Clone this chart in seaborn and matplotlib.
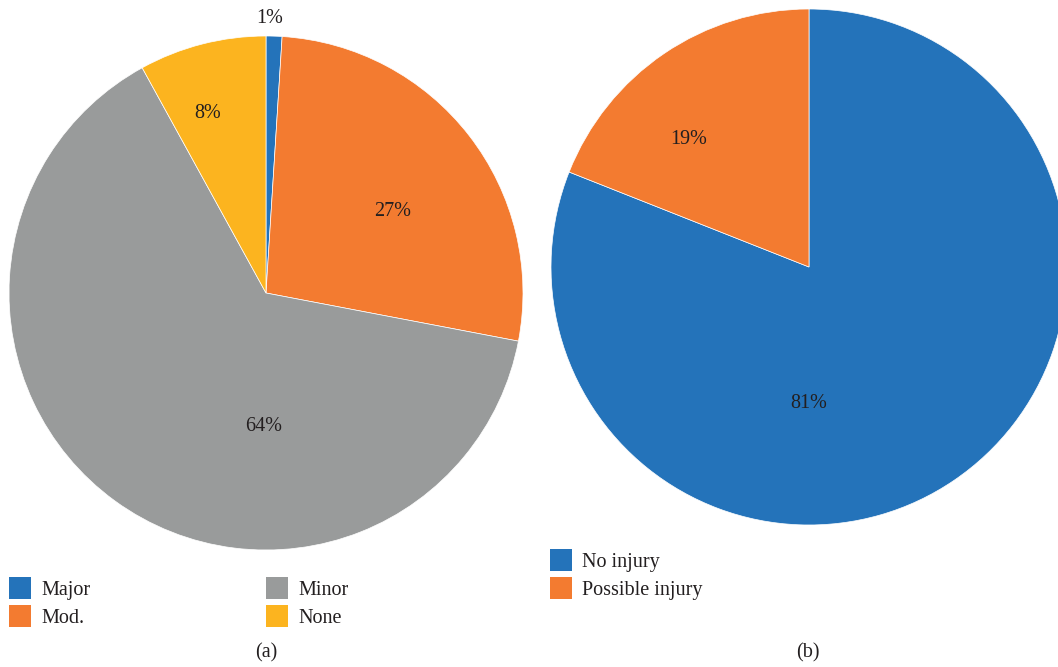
import matplotlib
matplotlib.use("Agg")
import matplotlib.pyplot as plt
import matplotlib.patches as mpatches
import seaborn as sns

# data
severity_labels = ["Major", "Mod.", "Minor", "None"]
severity_share = [1, 27, 64, 8]
injury_labels = ["No injury", "Possible injury"]
injury_share = [81, 19]

severity_colors = ["#2473BA", "#F37B30", "#999B9B", "#FCB41F"]
injury_colors = ["#2473BA", "#F37B30"]

# where each percentage label sits (radius units, relative to the centre)
severity_label_pos = [(0.016, 1.07), (0.494, 0.319), (-0.008, -0.521), (-0.226, 0.700)]
injury_label_pos = [(0.0, -0.531), (-0.465, 0.496)]

sns.set_theme(style="white")
plt.rcParams["font.family"] = ["Liberation Serif", "DejaVu Serif"]
text_color = "#231F20"
fs = 14.5

W, H = 1058, 667
fig = plt.figure(figsize=(W / 100, H / 100), dpi=100)


def draw_pie(rect, values, colors, label_pos):
    ax = fig.add_axes(rect)
    wedges, _, autotexts = ax.pie(
        values, colors=colors, startangle=90, counterclock=False,
        autopct="%d%%", radius=1.0,
        wedgeprops=dict(edgecolor="white", linewidth=0.5),
        textprops=dict(color=text_color, fontsize=fs))
    for t, (x, y) in zip(autotexts, label_pos):
        t.set_position((x, y))
    ax.set_xlim(-1, 1)
    ax.set_ylim(-1, 1)
    ax.set_aspect("equal")
    ax.axis("off")
    return ax


# left pie: x 9..523, y 36..550 (pixels)
draw_pie([9 / W, (H - 550) / H, 514 / W, 514 / H],
         severity_share, severity_colors, severity_label_pos)
# right pie: x 551..1067, y 9..525
draw_pie([551 / W, (H - 525) / H, 516 / W, 516 / H],
         injury_share, injury_colors, injury_label_pos)


def add_legend(labels, colors, x, y_top):
    handles = [mpatches.Patch(facecolor=c, edgecolor="none", label=l)
               for l, c in zip(labels, colors)]
    leg = fig.legend(handles=handles, loc="upper left",
                     bbox_to_anchor=(x / W, 1 - y_top / H),
                     frameon=False, borderpad=0, borderaxespad=0,
                     fontsize=fs, handlelength=1.09, handleheight=1.31,
                     handletextpad=0.5, labelspacing=0.25, labelcolor=text_color)
    return leg


add_legend(severity_labels[:2], severity_colors[:2], 9, 577)
add_legend(severity_labels[2:], severity_colors[2:], 266, 577)
add_legend(injury_labels, injury_colors, 550, 549)

fig.text(266 / W, 1 - 653 / H, "(a)", ha="center", va="center",
         fontsize=fs, color=text_color)
fig.text(808 / W, 1 - 653 / H, "(b)", ha="center", va="center",
         fontsize=fs, color=text_color)

fig.savefig("out.png", dpi=100, facecolor="white")
